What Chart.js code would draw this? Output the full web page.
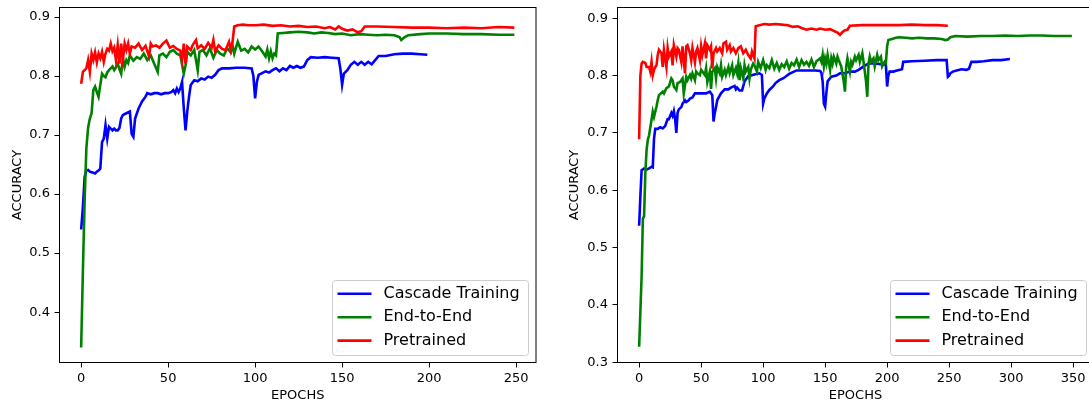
<!DOCTYPE html>
<html>
<head>
<meta charset="utf-8">
<script src="https://cdn.jsdelivr.net/npm/chart.js@4.4.1/dist/chart.umd.min.js"></script>
<style>
  html, body { margin:0; padding:0; background:#fff; overflow:hidden; width:1089px; height:405px; }
  #c1 { position:absolute; left:0; top:0; }
  #c2 { position:absolute; left:560px; top:0; }
</style>
</head>
<body>
<canvas id="c1" width="545" height="405"></canvas>
<canvas id="c2" width="540" height="405"></canvas>
<script>
// series labels + colours
const seriesNames = ['Cascade Training', 'End-to-End', 'Pretrained'];
const seriesColors = ['#0000ff', '#008000', '#ff0000'];

// tick labels
const leftXTicks = [0, 50, 100, 150, 200, 250];
const leftYTicks = [0.4, 0.5, 0.6, 0.7, 0.8, 0.9];
const rightXTicks = [0, 50, 100, 150, 200, 250, 300, 350];
const rightYTicks = [0.3, 0.4, 0.5, 0.6, 0.7, 0.8, 0.9];

// left plot, [epoch, accuracy]
const leftCascade = [[0,0.540],[1,0.578],[2,0.629],[3,0.640],[4,0.641],[5,0.638],[6,0.637],[7,0.636],[8,0.635],[9,0.638],[10,0.640],[11,0.643],[12,0.688],[13,0.694],[14,0.717],[15,0.694],[16,0.714],[17,0.711],[18,0.708],[19,0.711],[20,0.708],[21,0.708],[22,0.712],[23,0.728],[24,0.734],[26,0.737],[28,0.740],[29,0.702],[30,0.697],[31,0.728],[33,0.745],[34,0.751],[35,0.757],[37,0.765],[38,0.771],[40,0.769],[42,0.771],[44,0.771],[46,0.769],[48,0.771],[50,0.771],[52,0.773],[53,0.776],[54,0.771],[55,0.779],[56,0.773],[57,0.779],[58,0.790],[59,0.745],[60,0.708],[61,0.740],[62,0.765],[63,0.785],[65,0.793],[67,0.791],[69,0.796],[71,0.794],[73,0.799],[75,0.797],[77,0.802],[79,0.810],[81,0.813],[85,0.813],[89,0.814],[94,0.814],[98,0.813],[99,0.800],[100,0.762],[101,0.790],[102,0.802],[104,0.805],[106,0.808],[108,0.806],[110,0.810],[112,0.813],[114,0.808],[116,0.813],[118,0.810],[120,0.817],[122,0.814],[124,0.817],[126,0.814],[128,0.816],[130,0.827],[132,0.832],[136,0.831],[140,0.832],[144,0.831],[148,0.830],[149,0.812],[150,0.785],[151,0.804],[153,0.810],[155,0.819],[157,0.824],[159,0.819],[161,0.824],[163,0.819],[165,0.824],[167,0.820],[169,0.827],[171,0.834],[175,0.834],[180,0.837],[185,0.838],[190,0.838],[195,0.837],[199,0.836]];
const leftEndToEnd = [[0,0.340],[1,0.470],[2,0.590],[3,0.678],[4,0.713],[5,0.728],[6,0.737],[7,0.776],[8,0.782],[9,0.773],[10,0.765],[11,0.785],[12,0.804],[13,0.800],[14,0.798],[15,0.806],[16,0.810],[17,0.813],[18,0.816],[19,0.810],[20,0.815],[21,0.821],[22,0.812],[23,0.804],[24,0.830],[25,0.816],[26,0.827],[27,0.822],[28,0.835],[30,0.826],[32,0.832],[34,0.829],[36,0.838],[38,0.827],[40,0.835],[42,0.821],[44,0.807],[45,0.835],[47,0.838],[49,0.832],[51,0.841],[53,0.844],[55,0.838],[57,0.835],[59,0.804],[60,0.818],[61,0.841],[63,0.835],[65,0.844],[67,0.810],[68,0.841],[70,0.844],[72,0.835],[74,0.847],[76,0.831],[78,0.844],[80,0.838],[82,0.835],[84,0.847],[86,0.840],[87,0.852],[88,0.838],[90,0.858],[92,0.843],[94,0.846],[96,0.840],[98,0.850],[100,0.845],[102,0.850],[104,0.842],[106,0.833],[107,0.845],[108,0.830],[109,0.842],[110,0.830],[111,0.838],[112,0.835],[113,0.872],[116,0.873],[120,0.874],[125,0.875],[130,0.874],[134,0.872],[138,0.874],[142,0.873],[146,0.871],[150,0.872],[155,0.869],[160,0.871],[165,0.870],[170,0.869],[175,0.870],[180,0.869],[183,0.866],[184,0.861],[186,0.866],[188,0.869],[195,0.871],[200,0.872],[210,0.872],[220,0.871],[230,0.871],[240,0.870],[249,0.870]];
const leftPretrained = [[0,0.787],[1,0.807],[2,0.810],[3,0.813],[4,0.827],[5,0.807],[6,0.838],[7,0.827],[8,0.840],[9,0.823],[10,0.838],[11,0.830],[12,0.841],[13,0.824],[14,0.838],[15,0.846],[16,0.843],[17,0.855],[18,0.842],[19,0.848],[20,0.827],[21,0.852],[22,0.821],[23,0.855],[24,0.828],[25,0.855],[26,0.844],[27,0.855],[28,0.838],[29,0.850],[31,0.848],[33,0.855],[35,0.844],[37,0.851],[39,0.833],[40,0.855],[41,0.850],[43,0.852],[45,0.848],[47,0.855],[49,0.860],[51,0.848],[53,0.851],[55,0.846],[57,0.843],[58,0.827],[59,0.855],[60,0.821],[61,0.850],[63,0.844],[64,0.852],[66,0.861],[67,0.847],[69,0.852],[71,0.846],[73,0.856],[75,0.848],[76,0.861],[77,0.842],[79,0.852],[81,0.846],[83,0.844],[85,0.858],[86,0.844],[87,0.858],[88,0.884],[90,0.886],[93,0.887],[96,0.886],[100,0.886],[105,0.887],[110,0.885],[115,0.886],[120,0.884],[125,0.885],[130,0.883],[135,0.884],[140,0.881],[143,0.883],[146,0.879],[148,0.884],[150,0.880],[153,0.877],[156,0.879],[159,0.874],[161,0.876],[163,0.884],[170,0.884],[180,0.883],[190,0.882],[200,0.882],[210,0.881],[220,0.882],[230,0.881],[240,0.883],[249,0.882]];

// right plot, [epoch, accuracy]
const rightCascade = [[0,0.538],[1,0.590],[2,0.635],[4,0.638],[6,0.636],[8,0.638],[10,0.641],[11,0.640],[12,0.690],[13,0.707],[15,0.707],[17,0.710],[19,0.708],[21,0.712],[23,0.724],[24,0.724],[26,0.735],[27,0.730],[28,0.738],[29,0.725],[30,0.700],[31,0.735],[32,0.741],[34,0.745],[35,0.751],[37,0.757],[38,0.754],[40,0.757],[41,0.760],[43,0.762],[45,0.769],[48,0.769],[51,0.769],[54,0.769],[57,0.772],[59,0.766],[60,0.720],[61,0.735],[62,0.745],[63,0.757],[66,0.769],[69,0.776],[72,0.776],[74,0.779],[77,0.782],[78,0.776],[79,0.779],[81,0.774],[83,0.774],[85,0.790],[88,0.799],[90,0.800],[93,0.802],[97,0.804],[99,0.801],[100,0.751],[101,0.760],[103,0.769],[105,0.775],[108,0.781],[110,0.787],[113,0.792],[116,0.795],[118,0.798],[121,0.803],[124,0.806],[127,0.809],[132,0.809],[137,0.809],[142,0.809],[146,0.808],[147,0.805],[148,0.790],[149,0.751],[150,0.746],[151,0.770],[152,0.790],[155,0.798],[159,0.800],[162,0.804],[166,0.804],[170,0.807],[174,0.807],[177,0.810],[181,0.816],[185,0.821],[190,0.821],[195,0.820],[199,0.819],[200,0.781],[201,0.800],[202,0.807],[205,0.807],[208,0.809],[212,0.811],[213,0.824],[220,0.825],[230,0.826],[240,0.827],[248,0.827],[249,0.798],[250,0.800],[251,0.804],[253,0.807],[256,0.809],[260,0.811],[264,0.810],[266,0.812],[268,0.824],[272,0.824],[278,0.825],[285,0.827],[292,0.827],[299,0.829]];
const rightEndToEnd = [[0,0.327],[2,0.450],[3,0.550],[4,0.555],[5,0.630],[6,0.670],[7,0.688],[8,0.696],[10,0.723],[11,0.737],[12,0.728],[14,0.746],[15,0.757],[16,0.766],[19,0.772],[20,0.769],[22,0.778],[24,0.781],[26,0.795],[27,0.792],[28,0.781],[30,0.775],[31,0.787],[33,0.789],[35,0.795],[36,0.769],[38,0.798],[39,0.792],[41,0.801],[42,0.795],[43,0.804],[45,0.792],[46,0.807],[47,0.804],[49,0.801],[50,0.810],[51,0.807],[53,0.801],[54,0.813],[55,0.789],[57,0.807],[58,0.777],[59,0.807],[61,0.813],[62,0.795],[63,0.815],[65,0.804],[66,0.818],[67,0.798],[69,0.810],[70,0.801],[72,0.815],[73,0.804],[75,0.818],[76,0.801],[78,0.813],[79,0.804],[80,0.821],[81,0.792],[82,0.813],[84,0.795],[85,0.818],[86,0.807],[88,0.815],[89,0.795],[90,0.810],[92,0.821],[93,0.818],[95,0.807],[96,0.824],[98,0.813],[100,0.827],[102,0.810],[103,0.818],[105,0.813],[107,0.827],[109,0.812],[111,0.822],[113,0.810],[115,0.820],[117,0.815],[119,0.825],[121,0.812],[123,0.822],[125,0.818],[127,0.828],[129,0.815],[131,0.827],[133,0.819],[135,0.824],[137,0.817],[139,0.828],[141,0.815],[143,0.825],[146,0.830],[147,0.824],[148,0.836],[149,0.816],[150,0.830],[151,0.821],[152,0.836],[154,0.810],[155,0.830],[156,0.821],[157,0.833],[159,0.821],[160,0.833],[161,0.827],[163,0.816],[165,0.790],[166,0.772],[167,0.816],[168,0.830],[170,0.807],[171,0.824],[172,0.819],[174,0.833],[175,0.827],[177,0.836],[178,0.824],[180,0.839],[181,0.824],[183,0.790],[184,0.763],[185,0.821],[186,0.833],[187,0.824],[189,0.830],[190,0.816],[192,0.836],[193,0.827],[195,0.833],[196,0.816],[198,0.824],[199,0.822],[200,0.851],[201,0.862],[204,0.864],[207,0.866],[210,0.867],[215,0.866],[220,0.865],[226,0.866],[232,0.865],[238,0.865],[244,0.864],[247,0.862],[249,0.863],[251,0.867],[255,0.869],[265,0.868],[275,0.869],[285,0.869],[295,0.870],[305,0.869],[315,0.870],[325,0.870],[335,0.869],[345,0.869],[349,0.869]];
const rightPretrained = [[0,0.689],[1,0.800],[2,0.821],[3,0.824],[5,0.822],[6,0.815],[8,0.815],[9,0.807],[10,0.824],[11,0.801],[12,0.810],[13,0.815],[14,0.818],[15,0.836],[16,0.845],[18,0.839],[19,0.815],[20,0.845],[22,0.815],[23,0.848],[24,0.833],[26,0.842],[27,0.818],[28,0.853],[30,0.833],[31,0.848],[32,0.845],[34,0.824],[35,0.851],[37,0.804],[38,0.851],[39,0.853],[41,0.839],[42,0.827],[43,0.848],[45,0.823],[46,0.842],[47,0.848],[49,0.827],[50,0.851],[51,0.836],[53,0.856],[54,0.830],[55,0.853],[57,0.845],[58,0.851],[59,0.812],[60,0.839],[62,0.848],[63,0.842],[65,0.848],[67,0.839],[68,0.856],[70,0.859],[71,0.845],[73,0.853],[74,0.842],[76,0.848],[78,0.839],[80,0.848],[82,0.851],[84,0.839],[86,0.845],[88,0.836],[90,0.830],[91,0.842],[93,0.830],[94,0.886],[97,0.888],[101,0.890],[105,0.889],[110,0.890],[115,0.889],[120,0.888],[124,0.885],[128,0.886],[131,0.883],[135,0.880],[139,0.882],[143,0.880],[146,0.882],[150,0.880],[154,0.881],[158,0.877],[160,0.875],[162,0.871],[164,0.876],[166,0.879],[168,0.880],[170,0.887],[180,0.888],[190,0.888],[200,0.888],[210,0.888],[220,0.889],[230,0.888],[240,0.888],[249,0.887]];

const font = '"DejaVu Sans", sans-serif';

// black box round the plot area, like matplotlib spines
const frame = {
  id: 'frame',
  afterDatasetsDraw(chart) {
    const a = chart.chartArea, ctx = chart.ctx;
    ctx.save();
    ctx.strokeStyle = '#000';
    ctx.lineWidth = 1;
    ctx.strokeRect(a.left, a.top, a.right - a.left, a.bottom - a.top);
    ctx.restore();
  }
};

// legend box in the lower right corner
const cornerLegend = {
  id: 'cornerLegend',
  afterDraw(chart) {
    const a = chart.chartArea, ctx = chart.ctx;
    const w = 196, h = 75;
    const x = Math.round(a.right - 8 - w) + 0.5, y = Math.round(a.bottom - 8 - h) + 0.5;
    ctx.save();
    ctx.beginPath();
    ctx.roundRect(x, y, w, h, 3);
    ctx.fillStyle = 'rgba(255,255,255,0.8)';
    ctx.fill();
    ctx.strokeStyle = '#cccccc';
    ctx.lineWidth = 1;
    ctx.stroke();
    ctx.font = '16px ' + font;
    ctx.textBaseline = 'middle';
    chart.data.datasets.forEach((ds, i) => {
      const ry = y + 13.3 + i * 23.4;
      ctx.strokeStyle = ds.borderColor;
      ctx.lineWidth = 2.6;
      ctx.beginPath();
      ctx.moveTo(x + 5, ry);
      ctx.lineTo(x + 39, ry);
      ctx.stroke();
      ctx.fillStyle = '#000';
      ctx.fillText(ds.label, x + 51, ry);
    });
    ctx.restore();
  }
};

function makeChart(id, series, xRange, yRange, xTicks, yTicks, g) {
  new Chart(document.getElementById(id), {
    type: 'line',
    data: {
      datasets: series.map((s, i) => ({
        label: seriesNames[i],
        data: s.map(p => ({x: p[0], y: p[1]})),
        borderColor: seriesColors[i],
        borderWidth: 2.6,
        pointRadius: 0,
        tension: 0,
        fill: false,
        order: 2 - i
      }))
    },
    options: {
      responsive: false,
      animation: false,
      events: [],
      layout: { autoPadding: false, padding: g.padding },
      plugins: { legend: { display: false }, tooltip: { enabled: false } },
      scales: {
        x: {
          type: 'linear',
          min: xRange[0], max: xRange[1],
          border: { display: false },
          grid: { display: true, drawOnChartArea: false, drawTicks: true, tickLength: 5, color: '#000' },
          ticks: { color: '#000', font: { family: font, size: 13 }, padding: 3, maxRotation: 0,
                   callback: v => String(v) },
          title: { display: true, text: 'EPOCHS', color: '#000', font: { family: font, size: 13 },
                   padding: { top: 0, bottom: 2 } },
          afterBuildTicks: s => { s.ticks = xTicks.map(v => ({value: v})); },
          afterFit: s => { s.height = g.xh; s.paddingLeft = 0; s.paddingRight = 0; }
        },
        y: {
          type: 'linear',
          min: yRange[0], max: yRange[1],
          border: { display: false },
          grid: { display: true, drawOnChartArea: false, drawTicks: true, tickLength: 5, color: '#000' },
          ticks: { color: '#000', font: { family: font, size: 13 }, padding: 4.5,
                   callback: v => v.toFixed(1) },
          title: { display: true, text: 'ACCURACY', color: '#000', font: { family: font, size: 13 },
                   padding: { top: g.titlePad, bottom: 0 } },
          afterBuildTicks: s => { s.ticks = yTicks.map(v => ({value: v})); },
          afterFit: s => { s.width = g.yw; s.paddingTop = 0; s.paddingBottom = 0; }
        }
      }
    },
    plugins: [frame, cornerLegend]
  });
}

makeChart('c1', [leftCascade, leftEndToEnd, leftPretrained],
  [-12.45, 261.45], [0.3147, 0.9161], leftXTicks, leftYTicks,
  { yw: 59.5, xh: 42.5, titlePad: 9.7, padding: { top: 7.5, right: 9, left: 0, bottom: 0 } });

makeChart('c2', [rightCascade, rightEndToEnd, rightPretrained],
  [-17.45, 366.45], [0.2995, 0.9188], rightXTicks, rightYTicks,
  { yw: 57.5, xh: 42.5, titlePad: 7.2, padding: { top: 7.5, right: 6.5, left: 0, bottom: 0 } });
</script>
</body>
</html>
